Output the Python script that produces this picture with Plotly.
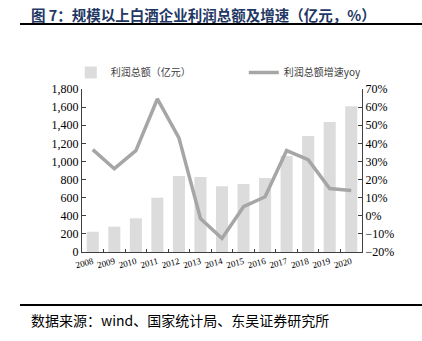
import plotly.graph_objects as go

years = ["2008", "2009", "2010", "2011", "2012", "2013", "2014",
         "2015", "2016", "2017", "2018", "2019", "2020"]
profit = [224, 280, 372, 600, 840, 828, 725, 750, 817, 1060, 1280, 1435, 1610]
growth = [36.5, 26, 36, 64.5, 43, -1.5, -12.5, 5, 10.5, 36, 31, 15, 14]

serif = "Liberation Serif, Times New Roman, serif"
cjk = "Noto Sans CJK SC, sans-serif"

fig = go.Figure()
fig.add_trace(go.Bar(x=years, y=profit, name="利润总额（亿元）",
                     marker=dict(color="#dcdcdc", line=dict(width=0)),
                     yaxis="y"))
fig.add_trace(go.Scatter(x=years, y=growth, name="利润总额增速yoy",
                         mode="lines", line=dict(color="#a6a6a6", width=3.5),
                         yaxis="y2"))

fig.update_layout(
    width=422, height=341,
    margin=dict(l=82, r=60, t=89, b=89),
    paper_bgcolor="white", plot_bgcolor="white",
    bargap=0.44,
    showlegend=True,
    legend=dict(orientation="h", x=-0.04, y=1.19, xanchor="left", yanchor="top",
                font=dict(family=cjk, size=10, color="#404040"),
                entrywidth=128, entrywidthmode="pixels",
                bgcolor="rgba(0,0,0,0)"),
    xaxis=dict(type="category", tickangle=-15,
               tickfont=dict(family=serif, size=9, color="#000"),
               showline=True, linecolor="#404040", linewidth=1,
               ticks="inside", ticklen=3, tickcolor="#404040",
               tickson="boundaries", showgrid=False, zeroline=False),
    yaxis=dict(range=[0, 1800], dtick=200, tickformat=",",
               tickfont=dict(family=serif, size=12, color="#000"),
               showline=True, linecolor="#404040", linewidth=1,
               ticks="inside", ticklen=4, tickcolor="#404040",
               showgrid=False, zeroline=False),
    yaxis2=dict(range=[-20, 70], dtick=10, ticksuffix="%", overlaying="y",
                side="right",
                tickfont=dict(family=serif, size=12, color="#000"),
                showline=True, linecolor="#404040", linewidth=1,
                ticks="inside", ticklen=4, tickcolor="#404040",
                showgrid=False, zeroline=False),
    shapes=[
        dict(type="line", xref="paper", yref="paper",
             x0=-0.2214, x1=1.2143, y0=1.3988, y1=1.3988,
             line=dict(color="#000", width=2)),
        dict(type="line", xref="paper", yref="paper",
             x0=-0.2214, x1=1.2143, y0=-0.3252, y1=-0.3252,
             line=dict(color="#000", width=2)),
    ],
    annotations=[
        dict(text="<b>图 7：规模以上白酒企业利润总额及增速（亿元，%）</b>",
             xref="paper", yref="paper", x=-0.19, y=1.46,
             xanchor="left", yanchor="middle", showarrow=False,
             font=dict(family=cjk, size=14.5, color="#1f3864")),
        dict(text="数据来源：wind、国家统计局、东吴证券研究所",
             xref="paper", yref="paper", x=-0.19, y=-0.42,
             xanchor="left", yanchor="middle", showarrow=False,
             font=dict(family=cjk, size=14, color="#000")),
    ],
)

fig.write_html("out.html")
